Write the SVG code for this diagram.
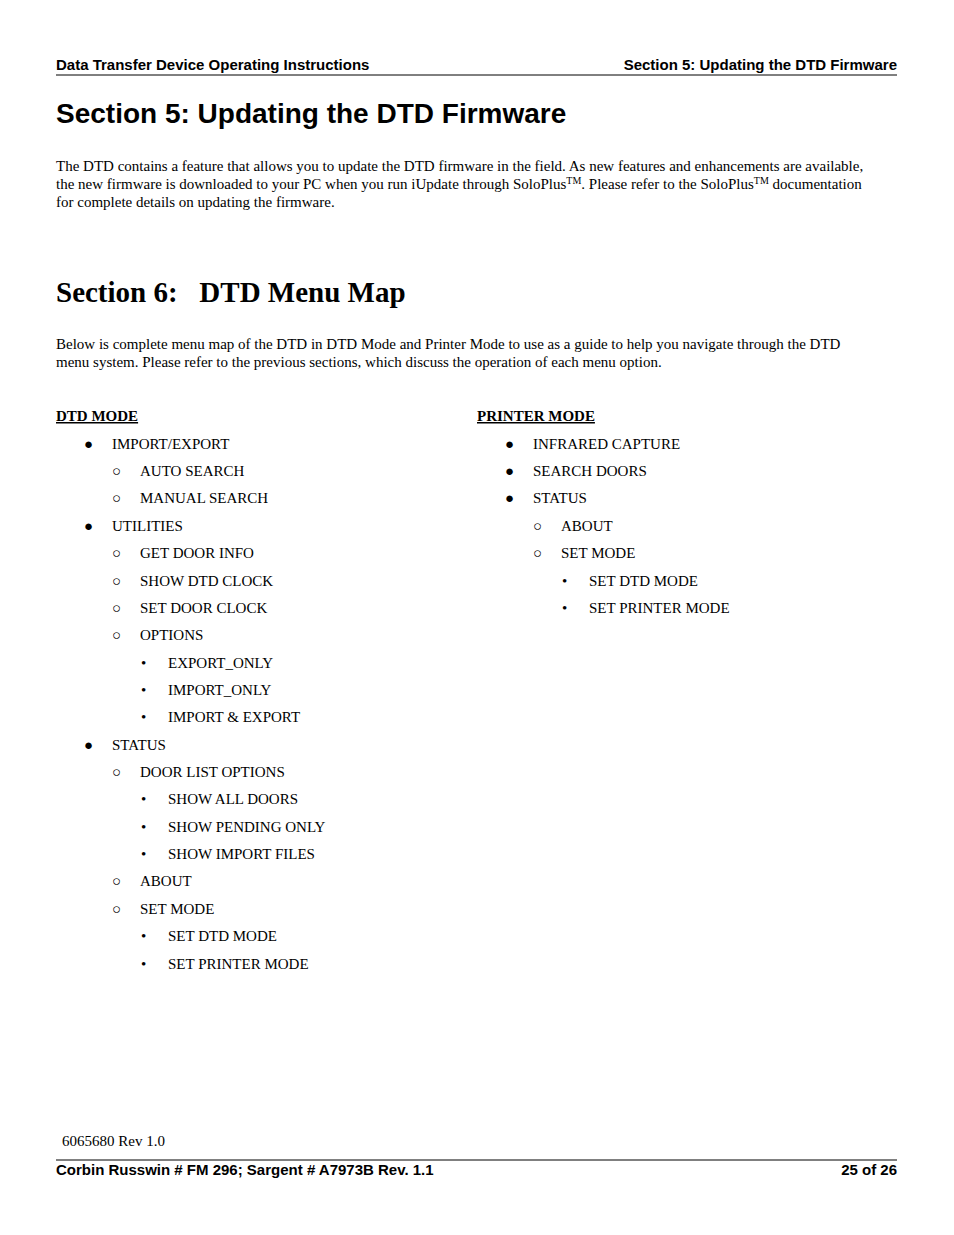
<svg xmlns="http://www.w3.org/2000/svg" width="954" height="1235" viewBox="0 0 954 1235">
<style>
.h{font-family:"Liberation Sans",Arial,sans-serif;font-weight:bold;font-size:15px;fill:#000}
.t{font-family:"Liberation Sans",Arial,sans-serif;font-weight:bold;font-size:28px;fill:#000}
.t2{font-family:"Liberation Serif","Times New Roman",serif;font-weight:bold;font-size:29px;fill:#000}
.b{font-family:"Liberation Serif","Times New Roman",serif;font-size:15px;fill:#000}
.u{font-family:"Liberation Serif","Times New Roman",serif;font-size:15px;font-weight:bold;text-decoration:underline;fill:#000}
</style>
<rect width="954" height="1235" fill="#fff"/>
<text class="h" x="56" y="70">Data Transfer Device Operating Instructions</text>
<text class="h" x="897" y="70" text-anchor="end">Section 5: Updating the DTD Firmware</text>
<line x1="56" y1="75" x2="897" y2="75" stroke="#000" stroke-width="1"/>
<text class="t" x="56" y="123">Section 5:   Updating the DTD Firmware</text>
<text class="b" x="56" y="171">The DTD contains a feature that allows you to update the DTD firmware in the field. As new features and enhancements are available,</text>
<text class="b" x="56" y="189">the new firmware is downloaded to your PC when you run iUpdate through SoloPlus<tspan font-size="10" dy="-5">TM</tspan><tspan dy="5">. Please refer to the SoloPlus</tspan><tspan font-size="10" dy="-5">TM</tspan><tspan dy="5"> documentation</tspan></text>
<text class="b" x="56" y="207">for complete details on updating the firmware.</text>
<text class="t2" x="56" y="302" xml:space="preserve">Section 6:   DTD Menu Map</text>
<text class="b" x="56" y="349">Below is complete menu map of the DTD in DTD Mode and Printer Mode to use as a guide to help you navigate through the DTD</text>
<text class="b" x="56" y="367">menu system. Please refer to the previous sections, which discuss the operation of each menu option.</text>
<text class="u" x="56" y="421">DTD MODE</text>
<text class="u" x="477" y="421">PRINTER MODE</text>
<g class="b" font-family="Liberation Serif,serif" font-size="15">
<text x="84" y="449">●</text><text x="112" y="449">IMPORT/EXPORT</text>
<text x="112" y="476">○</text><text x="140" y="476">AUTO SEARCH</text>
<text x="112" y="503">○</text><text x="140" y="503">MANUAL SEARCH</text>
<text x="84" y="531">●</text><text x="112" y="531">UTILITIES</text>
<text x="112" y="558">○</text><text x="140" y="558">GET DOOR INFO</text>
<text x="112" y="586">○</text><text x="140" y="586">SHOW DTD CLOCK</text>
<text x="112" y="613">○</text><text x="140" y="613">SET DOOR CLOCK</text>
<text x="112" y="640">○</text><text x="140" y="640">OPTIONS</text>
<text x="141" y="668">•</text><text x="168" y="668">EXPORT_ONLY</text>
<text x="141" y="695">•</text><text x="168" y="695">IMPORT_ONLY</text>
<text x="141" y="722">•</text><text x="168" y="722">IMPORT &amp; EXPORT</text>
<text x="84" y="750">●</text><text x="112" y="750">STATUS</text>
<text x="112" y="777">○</text><text x="140" y="777">DOOR LIST OPTIONS</text>
<text x="141" y="804">•</text><text x="168" y="804">SHOW ALL DOORS</text>
<text x="141" y="832">•</text><text x="168" y="832">SHOW PENDING ONLY</text>
<text x="141" y="859">•</text><text x="168" y="859">SHOW IMPORT FILES</text>
<text x="112" y="886">○</text><text x="140" y="886">ABOUT</text>
<text x="112" y="914">○</text><text x="140" y="914">SET MODE</text>
<text x="141" y="941">•</text><text x="168" y="941">SET DTD MODE</text>
<text x="141" y="969">•</text><text x="168" y="969">SET PRINTER MODE</text>
<text x="505" y="449">●</text><text x="533" y="449">INFRARED CAPTURE</text>
<text x="505" y="476">●</text><text x="533" y="476">SEARCH DOORS</text>
<text x="505" y="503">●</text><text x="533" y="503">STATUS</text>
<text x="533" y="531">○</text><text x="561" y="531">ABOUT</text>
<text x="533" y="558">○</text><text x="561" y="558">SET MODE</text>
<text x="562" y="586">•</text><text x="589" y="586">SET DTD MODE</text>
<text x="562" y="613">•</text><text x="589" y="613">SET PRINTER MODE</text>
</g>
<text class="b" x="62" y="1146">6065680 Rev 1.0</text>
<line x1="56" y1="1160" x2="897" y2="1160" stroke="#000" stroke-width="1"/>
<text class="h" x="56" y="1175">Corbin Russwin # FM 296; Sargent # A7973B  Rev. 1.1</text>
<text class="h" x="897" y="1175" text-anchor="end">25  of  26</text>
</svg>
